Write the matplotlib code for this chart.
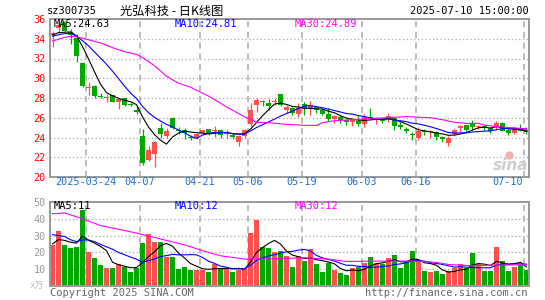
import numpy as np
import pandas as pd
import matplotlib.pyplot as plt

plt.rcParams['font.family'] = ['DejaVu Sans Mono', 'Noto Sans CJK SC']

# 日K数据 (2025-03-14 ~ 2025-07-10)
open_ = [34.35, 35.1, 35.65, 34.65, 34.1, 31.5, 29.05, 29.25, 28.12, 28.0,
         28.3, 27.55, 28.0, 27.4, 26.8, 24.2, 21.75, 22.35, 25.0, 24.2,
         26.0, 24.8, 24.8, 24.1, 23.95, 24.45, 24.85, 24.65, 24.75, 24.4,
         24.3, 23.5, 24.15, 25.4, 27.3, 27.65, 27.5, 27.55, 28.4, 26.8,
         26.95, 26.4, 27.4, 26.85, 27.05, 26.8, 26.4, 25.85, 26.1, 25.75,
         25.6, 25.65, 25.4, 26.05, 25.85, 25.9, 25.85, 25.95, 25.25, 24.85,
         24.4, 24.0, 24.7, 24.55, 24.6, 24.05, 23.4, 24.35, 24.95, 25.25,
         25.4, 25.05, 25.1, 25.0, 25.05, 25.5, 24.8, 24.5, 24.85, 24.8]
close_ = [34.6, 35.4, 34.8, 34.35, 32.3, 29.2, 29.15, 28.25, 28.08, 28.05,
          27.6, 27.85, 27.3, 27.3, 26.6, 21.4, 22.7, 23.5, 24.4, 24.65,
          25.0, 24.7, 24.5, 23.9, 24.35, 24.75, 24.35, 24.75, 24.25, 24.45,
          24.1, 24.15, 24.75, 26.8, 27.75, 27.55, 27.2, 27.65, 27.25, 27.1,
          26.5, 26.95, 26.95, 27.3, 26.8, 26.4, 25.85, 26.15, 25.8, 25.6,
          25.85, 25.4, 26.05, 26.0, 25.95, 25.7, 26.15, 25.15, 25.1, 24.7,
          24.25, 24.7, 24.6, 24.6, 24.1, 23.8, 24.0, 24.75, 25.15, 24.8,
          25.1, 25.12, 25.05, 24.7, 25.5, 24.7, 24.45, 24.75, 24.65, 24.6]
high_ = [34.75, 35.75, 35.8, 35.0, 34.5, 31.55, 29.6, 29.3, 28.5, 28.4,
         28.35, 27.95, 28.05, 27.5, 27.2, 24.85, 23.15, 23.65, 25.5, 24.95,
         26.05, 25.1, 24.95, 24.25, 24.5, 24.8, 24.9, 25.15, 24.9, 24.8,
         24.45, 24.25, 24.9, 27.5, 28.0, 27.8, 27.85, 27.95, 28.4, 27.3,
         27.1, 27.45, 27.55, 27.7, 27.1, 26.95, 26.95, 26.3, 26.3, 25.85,
         25.95, 26.2, 26.4, 26.95, 26.05, 26.1, 26.5, 26.1, 25.6, 25.1,
         24.6, 25.1, 24.85, 24.75, 24.66, 24.15, 24.15, 24.83, 25.27, 25.3,
         25.75, 25.25, 25.2, 25.1, 25.65, 25.6, 25.1, 25.1, 25.35, 25.1]
low_ = [33.15, 34.6, 34.75, 33.5, 31.6, 29.1, 28.3, 27.95, 28.0, 27.6,
        27.55, 26.85, 27.15, 27.2, 26.4, 21.2, 21.6, 21.05, 24.0, 23.9,
        24.9, 24.4, 23.8, 23.75, 23.8, 24.35, 24.3, 24.1, 24.0, 24.0,
        23.85, 23.15, 24.0, 25.15, 26.6, 27.2, 26.8, 27.3, 27.2, 26.45,
        26.3, 26.1, 26.3, 26.3, 26.5, 26.3, 25.7, 25.5, 25.45, 25.25,
        25.15, 25.15, 25.1, 25.85, 25.4, 25.45, 25.6, 24.75, 24.85, 24.5,
        23.75, 23.75, 24.25, 24.0, 23.75, 23.55, 23.15, 24.15, 24.6, 24.6,
        24.75, 24.9, 24.75, 24.45, 24.75, 24.7, 24.25, 24.4, 24.7, 24.4]
# 成交量(万手)
volume = [24.3, 32.9, 24.7, 22.4, 23.5, 45.0, 20.5, 16.4, 12.3, 11.0,
          10.5, 13.3, 11.6, 8.2, 11.0, 25.7, 30.8, 26.3, 26.3, 17.5,
          17.5, 10.4, 11.6, 9.8, 9.8, 9.8, 8.6, 13.3, 10.4, 10.4,
          8.6, 9.8, 11.0, 31.3, 39.0, 23.0, 22.4, 20.0, 20.7, 17.7,
          11.1, 17.6, 14.8, 21.8, 12.9, 8.2, 13.8, 9.4, 7.6, 6.3,
          10.6, 11.6, 13.6, 17.2, 13.6, 12.8, 16.6, 18.4, 10.6, 14.0,
          20.8, 15.0, 8.8, 8.2, 8.8, 7.0, 8.8, 10.6, 12.8, 10.8,
          19.8, 12.8, 8.8, 8.8, 23.2, 14.8, 8.8, 11.2, 12.4, 9.6]

# 窗口之前的数据(只用于算MA5/MA10)
prior_close = [34.0, 33.6, 34.2, 34.9, 34.0, 34.2, 34.6, 34.2, 34.3]
prior_vol = [38, 30, 42, 35, 35, 20, 27, 28, 26]

# MA30
ma30_idx = [0, 2, 3, 4, 6, 8, 10, 12, 14, 15, 17, 19, 21, 23, 26, 29, 32, 33,
            34, 36, 39, 42, 44, 45, 47, 51, 53, 56, 59, 63, 65, 67, 69, 71,
            72, 74, 76, 79]
ma30_val = [33.77, 34.14, 34.24, 34.2, 33.9, 33.57, 33.1, 32.69, 32.42, 32.1,
            31.27, 30.19, 29.5, 29.1, 28.2, 27.1, 26.1, 25.84, 25.54, 25.5,
            25.33, 25.23, 25.23, 25.5, 25.7, 25.84, 25.91, 26.01, 26.12, 26.0,
            25.8, 25.54, 25.43, 25.43, 25.25, 25.12, 25.0, 24.89]
vma30_idx = [0, 2, 5, 8, 14, 18, 22, 25, 28, 32, 38, 42, 46, 49, 54, 61, 64,
             66, 70, 73, 79]
vma30_val = [43, 43.5, 40, 36, 31.5, 28, 24.5, 21, 18, 16, 16.3, 16.8, 16,
             14.6, 14.8, 14.8, 14, 12.8, 12, 12.4, 12.6]

tick_idx = [6, 15, 25, 33, 42, 52, 61, 79]
tick_lab = ['2025-03-24', '04-07', '04-21', '05-06', '05-19', '06-03', '06-16', '07-10']

RED = '#ff5050'
GREEN = '#00a800'
GRID = '#aaaaaa'

o = np.array(open_); c = np.array(close_)
h = np.array(high_); l = np.array(low_)
v = np.array(volume)
x = np.arange(len(c))
col = np.where(c > o, RED, GREEN)

n = len(c)
ma5 = pd.Series(prior_close + close_).rolling(5).mean().values[-n:]
ma10 = pd.Series(prior_close + close_).rolling(10).mean().values[-n:]
vma5 = pd.Series(prior_vol + volume).rolling(5).mean().values[-n:]
vma10 = pd.Series(prior_vol + volume).rolling(10).mean().values[-n:]

W, H = 545, 300
fig = plt.figure(figsize=(W / 100, H / 100), dpi=100)
fx = lambda px: px / W
fy = lambda py: 1 - py / H

ax1 = fig.add_axes([fx(50), fy(177), 479 / W, 158 / H])
ax2 = fig.add_axes([fx(50), fy(286), 479 / W, 84 / H])

for ax in (ax1, ax2):
    ax.set_xlim(-0.42, 79.42)
    for s in ax.spines.values():
        s.set_color('#999999')
        s.set_linewidth(1.4)
    ax.set_xticks([])
    ax.tick_params(axis='y', length=0, pad=3, labelsize=7.3)
    for t in tick_idx:
        ax.axvline(t - 0.4, color=GRID, lw=1.1, ls=(0, (4, 3)), zorder=0)

# 价格
for yv in range(22, 36, 2):
    ax1.axhline(yv, color=GRID, lw=0.9, ls=(0, (1, 2)), zorder=0)
ax1.vlines(x, l, h, colors=col, lw=0.9, zorder=2)
ax1.bar(x, np.maximum(np.abs(c - o), 0.08), bottom=np.minimum(o, c),
        width=0.83, color=col, linewidth=0, zorder=2)
ax1.plot(x, ma5, color='black', lw=0.8, zorder=3)
ax1.plot(x, ma10, color='#0000ff', lw=0.8, zorder=3)
ax1.plot(ma30_idx, ma30_val, color='#ff00ff', lw=0.8, zorder=3)
ax1.set_ylim(20, 36)
ax1.set_yticks(range(20, 37, 2))
ax1.tick_params(axis='y', labelcolor='#ff0000')

# 成交量
for yv in (10, 20, 30, 40):
    ax2.axhline(yv, color=GRID, lw=0.9, ls=(0, (1, 2)), zorder=0)
ax2.bar(x, v, width=0.83, color=col, linewidth=0, zorder=2)
ax2.plot(x, vma5, color='black', lw=0.8, zorder=3)
ax2.plot(x, vma10, color='#0000ff', lw=0.8, zorder=3)
ax2.plot(vma30_idx, vma30_val, color='#ff00ff', lw=0.8, zorder=3)
ax2.set_ylim(0, 50)
ax2.set_yticks([10, 20, 30, 40, 50])
ax2.tick_params(axis='y', labelcolor='#999999')

# 日期
for t, lab in zip(tick_idx, tick_lab):
    ha = 'right' if t == tick_idx[-1] else 'center'
    xt = 78.4 if t == tick_idx[-1] else t - 0.4
    ax1.text(xt, 0, lab, transform=ax1.get_xaxis_transform(),
             ha=ha, va='top', fontsize=7.3, color='#1f6fc5')

# 标题
fig.text(fx(47), fy(11.5), 'sz300735', fontsize=7.5, va='center', color='black')
fig.text(fx(120), fy(11), '光弘科技 - 日K线图', fontsize=8.8, va='center',
         family=['Noto Sans CJK SC', 'DejaVu Sans'], color='black')
fig.text(fx(529), fy(11.5), '2025-07-10 15:00:00', fontsize=7.5, va='center',
         ha='right', color='black')

fig.text(fx(54), fy(24), 'MA5:24.63', fontsize=7.5, va='center', color='black')
fig.text(fx(175), fy(24), 'MA10:24.81', fontsize=7.5, va='center', color='#0000ff')
fig.text(fx(295), fy(24), 'MA30:24.89', fontsize=7.5, va='center', color='#ff00ff')
fig.text(fx(54), fy(206), 'MA5:11', fontsize=7.5, va='center', color='black')
fig.text(fx(175), fy(206), 'MA10:12', fontsize=7.5, va='center', color='#0000ff')
fig.text(fx(295), fy(206), 'MA30:12', fontsize=7.5, va='center', color='#ff00ff')

fig.text(fx(44), fy(286), 'x万', fontsize=6.5, va='center', ha='right',
         color='#bbbbbb', family=['DejaVu Sans Mono', 'Noto Sans CJK SC'])
fig.text(fx(50), fy(292.5), 'Copyright 2025 SINA.COM', fontsize=7.5,
         va='center', color='#666666')
fig.text(fx(528), fy(292.5), 'http://finance.sina.com.cn', fontsize=7.5,
         va='center', ha='right', color='#666666')

# sina 水印
fig.text(fx(511), fy(165), 'sina', fontsize=11, fontweight='bold', style='italic',
         ha='center', va='center', color='#cccccc', family='DejaVu Sans')
ax1.plot([fx(509)], [fy(155)], 'o', ms=6, color='#f2b0b0', mew=0,
         transform=fig.transFigure, clip_on=False, zorder=1)

fig.savefig('out.png', dpi=100, facecolor='white')
